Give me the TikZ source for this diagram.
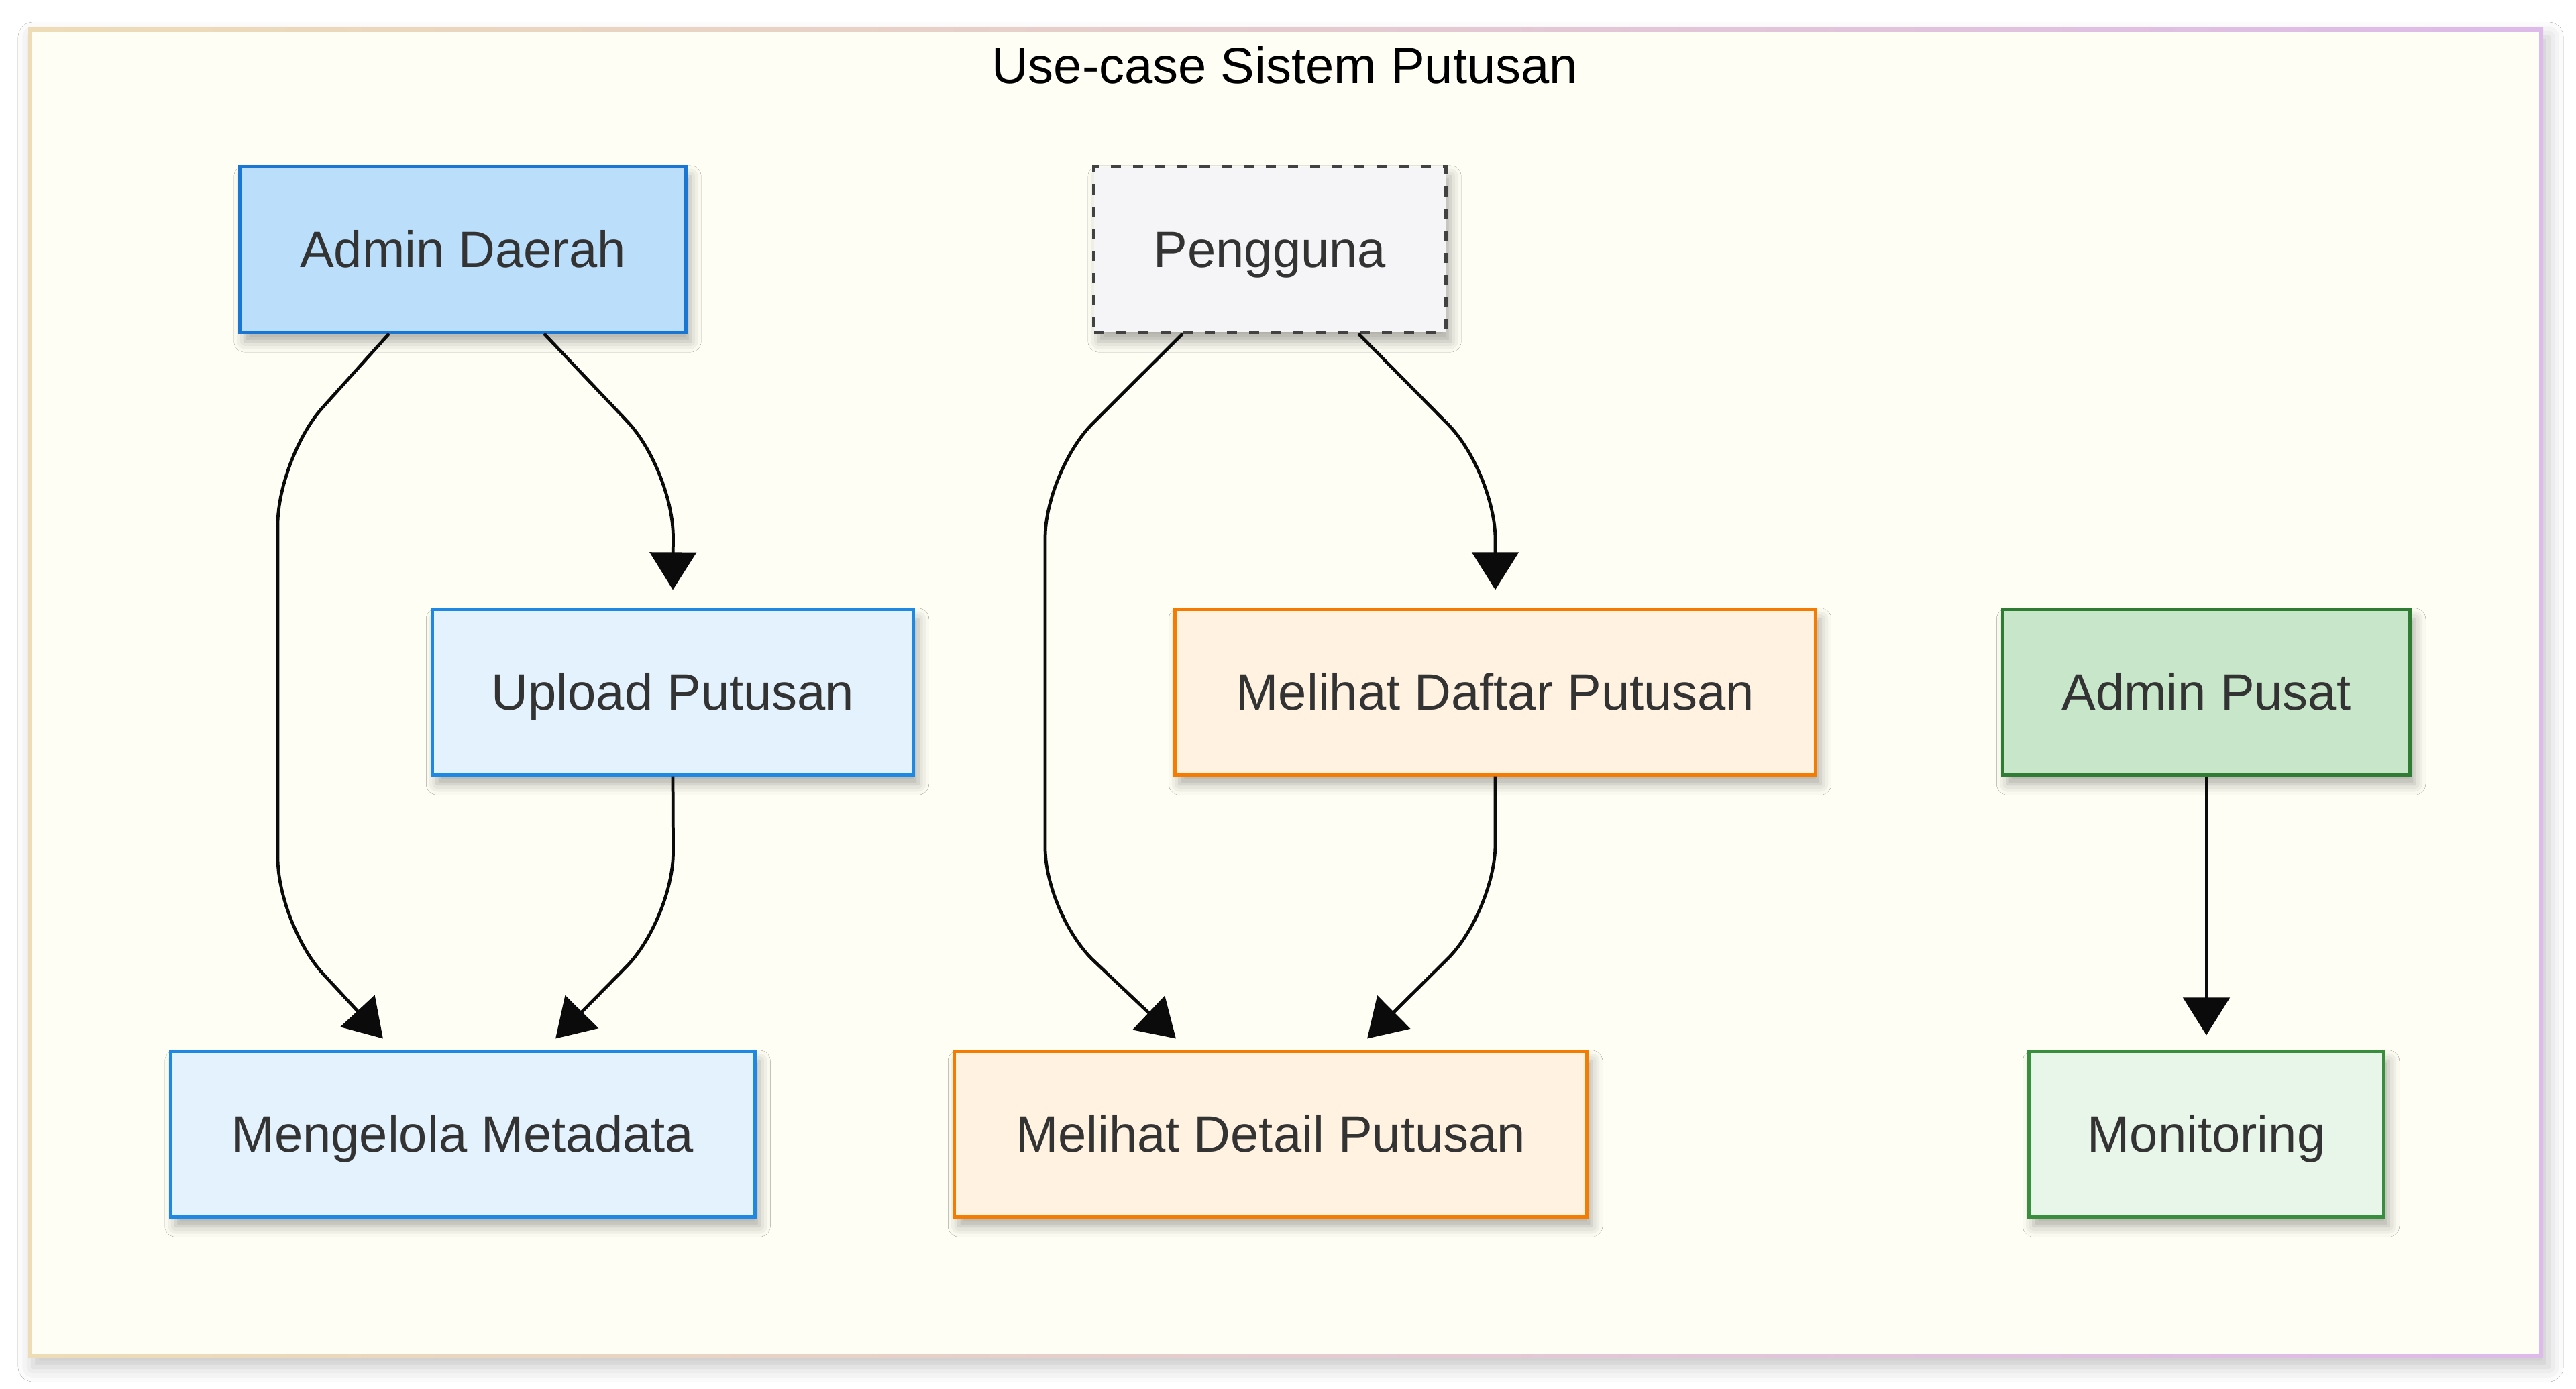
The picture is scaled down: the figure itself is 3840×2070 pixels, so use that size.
\documentclass[tikz,border=0pt]{standalone}
\usepackage{fontspec}
\setmainfont{Liberation Sans}
\usepackage{tikz}
\usetikzlibrary{arrows.meta,shadows.blur}
\definecolor{framebg}{HTML}{FEFEF5}
\definecolor{frameleft}{HTML}{EDDCB6}
\definecolor{frameright}{HTML}{DDBAE9}
\definecolor{textgray}{HTML}{333333}
\definecolor{daerahfill}{HTML}{BBDEFB}
\definecolor{daerahline}{HTML}{1976D2}
\definecolor{daerahcasefill}{HTML}{E3F2FD}
\definecolor{daerahcaseline}{HTML}{1E88E5}
\definecolor{userfill}{HTML}{F5F5F7}
\definecolor{userline}{HTML}{424242}
\definecolor{usercasefill}{HTML}{FFF2E0}
\definecolor{usercaseline}{HTML}{F57C00}
\definecolor{pusatfill}{HTML}{C8E6C9}
\definecolor{pusatline}{HTML}{2E7D32}
\definecolor{pusatcasefill}{HTML}{E8F5E9}
\definecolor{pusatcaseline}{HTML}{388E3C}
\definecolor{arrowblack}{HTML}{0B0B0B}
\tikzstyle{basebox} = [rectangle, line width=1.4pt, inner sep=0,
    minimum height=2.46cm, text=textgray,
    font=\fontsize{21.6pt}{26pt}\selectfont, text height=19.4pt, text depth=4.3pt,
    blur shadow={shadow xshift=0.07cm, shadow yshift=-0.14cm,
        shadow blur radius=0.16cm, shadow opacity=32}]
\tikzstyle{daerahactor} = [basebox, fill=daerahfill, draw=daerahline]
\tikzstyle{daerahcase} = [basebox, fill=daerahcasefill, draw=daerahcaseline]
\tikzstyle{useractor} = [basebox, fill=userfill, draw=userline,
    dash pattern=on 0.15cm off 0.18cm]
\tikzstyle{usercase} = [basebox, fill=usercasefill, draw=usercaseline]
\tikzstyle{pusatactor} = [basebox, fill=pusatfill, draw=pusatline]
\tikzstyle{pusatcase} = [basebox, fill=pusatcasefill, draw=pusatcaseline]
\tikzstyle{flow} = [-{Triangle[length=0.56cm, width=0.69cm]}, line width=1.35pt,
    draw=arrowblack, rounded corners=1cm]

\begin{document}
\begin{tikzpicture}[x=0.01cm, y=-0.01cm]
\useasboundingbox (0,0) rectangle (3840,2070);
\fill[white] (0,0) rectangle (3840,2070);
% frame
\shade[left color=frameleft, right color=frameright,
    blur shadow={shadow xshift=0.08cm, shadow yshift=-0.14cm,
        shadow blur radius=0.22cm, shadow opacity=22}]
    (41,41) rectangle (3791,2024);
\fill[framebg] (47,47) rectangle (3785,2019);
\node[anchor=base, font=\fontsize{21.6pt}{26pt}\selectfont] (title) at (1915,125)
    {Use-case Sistem Putusan};

% actors
\node[daerahactor, minimum width=6.64cm] (admd) at (690,372) {Admin Daerah};
\node[useractor, minimum width=5.24cm] (user) at (1893,372) {Pengguna};
\node[pusatactor, minimum width=6.07cm] (pusat) at (3289,1032) {Admin Pusat};

% use cases
\node[daerahcase, minimum width=7.17cm] (upl) at (1003,1032) {Upload Putusan};
\node[daerahcase, minimum width=8.70cm] (meta) at (690,1691) {Mengelola Metadata};
\node[usercase, minimum width=9.55cm] (daftar) at (2229,1032) {Melihat Daftar Putusan};
\node[usercase, minimum width=9.43cm] (detail) at (1894,1691) {Melihat Detail Putusan};
\node[pusatcase, minimum width=5.29cm] (monit) at (3289,1691) {Monitoring};

% connectors
\draw[flow] ([xshift=-1.1cm]admd.south) -- (414,682) -- (414,1379)
    -- ([xshift=-1.19cm, yshift=0.17cm]meta.north);
\draw[flow] ([xshift=1.21cm]admd.south) -- (1004,701) -- ([yshift=0.27cm]upl.north);
\draw[flow] (upl.south) -- (1004,1370) -- ([xshift=1.38cm, yshift=0.17cm]meta.north);
\draw[flow] ([xshift=-1.3cm]user.south) -- (1558,702) -- (1558,1364)
    -- ([xshift=-1.41cm, yshift=0.17cm]detail.north);
\draw[flow] ([xshift=1.32cm]user.south) -- (2229,704) -- ([yshift=0.27cm]daftar.north);
\draw[flow] (daftar.south) -- (2229,1359) -- ([xshift=1.44cm, yshift=0.17cm]detail.north);
\draw[flow] (pusat.south) -- ([yshift=0.22cm]monit.north);
\end{tikzpicture}
\end{document}
